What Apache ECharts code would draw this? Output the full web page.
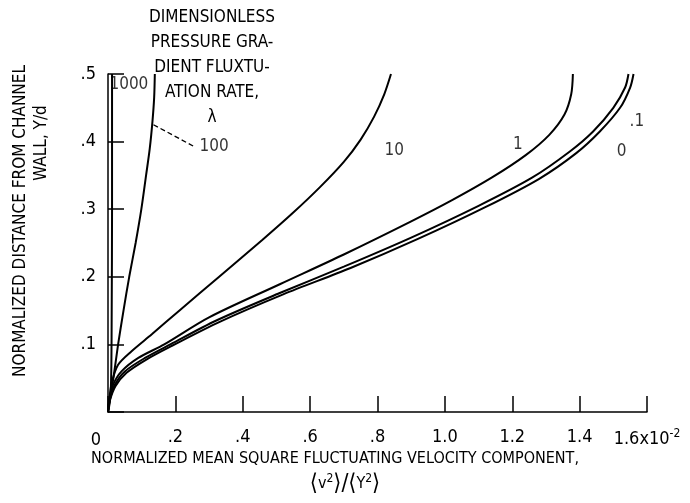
<!DOCTYPE html>
<html><head><meta charset="utf-8">
<script src="https://cdn.jsdelivr.net/npm/echarts@6/dist/echarts.min.js"></script>
<style>html,body{margin:0;padding:0;background:#fff}#c{width:690px;height:503px}</style>
</head><body><div id="c"></div>
<script>
// ---- data ----
const xTickLabels = ['', '.2', '.4', '.6', '.8', '1.0', '1.2', '1.4', '1.6x10{s|-2}'];
const yTickLabels = ['', '.1', '.2', '.3', '.4', '.5'];

const curve1000 = [[0,0],[0.004,0.01],[0.008,0.03],[0.010,0.07],[0.011,0.15],[0.012,0.3],[0.012,0.5]];
const curve100 = [[0,0],[0.006,0.02],[0.016,0.05],[0.03,0.1],[0.046,0.15],[0.063,0.2],[0.082,0.25],[0.099,0.3],[0.113,0.35],[0.124,0.39],[0.132,0.43],[0.137,0.465],[0.139,0.5]];
const curve10 = [[0,0],[0.004,0.02],[0.012,0.045],[0.03,0.07],[0.07,0.09],[0.13,0.115],[0.214,0.151],[0.33,0.2],[0.457,0.254],[0.55,0.295],[0.63,0.333],[0.7,0.37],[0.75,0.403],[0.79,0.437],[0.82,0.47],[0.84,0.5]];
const curve1 = [[0,0],[0.005,0.02],[0.015,0.04],[0.04,0.06],[0.09,0.08],[0.167,0.1],[0.3,0.14],[0.51,0.189],[0.7,0.233],[0.9,0.282],[1.02,0.313],[1.14,0.347],[1.24,0.38],[1.31,0.41],[1.355,0.44],[1.375,0.47],[1.38,0.5]];
const curve01 = [[0,0],[0.005,0.018],[0.02,0.04],[0.05,0.06],[0.11,0.08],[0.185,0.1],[0.32,0.135],[0.51,0.176],[0.7,0.215],[0.9,0.258],[1.1,0.305],[1.26,0.347],[1.37,0.385],[1.44,0.415],[1.5,0.45],[1.535,0.48],[1.545,0.5]];
const curve0 = [[0,0],[0.005,0.016],[0.022,0.038],[0.055,0.058],[0.115,0.078],[0.19,0.098],[0.33,0.133],[0.52,0.174],[0.72,0.213],[0.92,0.256],[1.12,0.303],[1.28,0.345],[1.39,0.383],[1.46,0.415],[1.52,0.45],[1.55,0.48],[1.56,0.5]];
const leader100 = [[0.135,0.425],[0.258,0.392]];
const curveLabels = [[0.062,0.484,'1000'],[0.315,0.392,'100'],[0.85,0.386,'10'],[1.217,0.395,'1'],[1.57,0.43,'.1'],[1.525,0.385,'0']];

const titleLines = ['DIMENSIONLESS','PRESSURE GRA-','DIENT FLUXTU-','ATION RATE,','λ'];

// ---- chart ----
const FONT = "'DejaVu Sans Condensed','Liberation Sans Narrow','Roboto Condensed','DejaVu Sans',sans-serif";
const chart = echarts.init(document.getElementById('c'), null, {renderer:'canvas'});
const lineSeries = (data) => ({type:'line', data, smooth:0.3, symbol:'none', lineStyle:{color:'#000', width:2}, z:3});

const graphics = [];
titleLines.forEach((t,i)=>{
  graphics.push({type:'text', x:212, y:18+i*25, style:{text:t, font:"17px "+FONT, fill:'#000', align:'center', verticalAlign:'middle'}});
});
graphics.push({type:'text', x:96, y:440, style:{text:'0', font:"18px "+FONT, fill:'#000', align:'center', verticalAlign:'middle'}});
graphics.push({type:'text', x:335, y:459, style:{text:'NORMALIZED MEAN SQUARE FLUCTUATING VELOCITY COMPONENT,', font:"16px "+FONT, fill:'#000', align:'center', verticalAlign:'middle'}});
graphics.push({type:'text', x:345, y:484, style:{text:'{b|⟨}{t|v}{s|2}{b|⟩}{b|/}{b|⟨}{t|Y}{s|2}{b|⟩}', align:'center', verticalAlign:'middle',
  rich:{b:{font:"23px "+FONT, fill:'#000'}, t:{font:"16px "+FONT, fill:'#000'}, s:{font:"12px "+FONT, fill:'#000', verticalAlign:'top', padding:[0,0,8,0]}}}});
graphics.push({type:'text', x:21, y:221, rotation:Math.PI/2, style:{text:'NORMALIZED DISTANCE FROM CHANNEL', font:"17px "+FONT, fill:'#000', align:'center', verticalAlign:'middle'}});
graphics.push({type:'text', x:42, y:143, rotation:Math.PI/2, style:{text:'WALL, Y/d', font:"17px "+FONT, fill:'#000', align:'center', verticalAlign:'middle'}});

chart.setOption({
  animation:false,
  backgroundColor:'#fff',
  grid:{left:108, right:43, top:74, bottom:91, containLabel:false},
  xAxis:{type:'value', min:0, max:1.6, interval:0.2,
    axisLine:{show:true, lineStyle:{color:'#000', width:1.5}},
    axisTick:{show:true, inside:true, length:16, lineStyle:{color:'#000', width:1.5}},
    splitLine:{show:false},
    axisLabel:{margin:16, color:'#000', fontFamily:FONT, fontSize:18,
      formatter:(v)=>xTickLabels[Math.round(v*5)],
      rich:{s:{fontFamily:FONT, fontSize:12, color:'#000', verticalAlign:'top', padding:[0,0,10,0]}}}},
  yAxis:{type:'value', min:0, max:0.5, interval:0.1,
    axisLine:{show:true, lineStyle:{color:'#000', width:1.5}},
    axisTick:{show:true, inside:true, length:16, lineStyle:{color:'#000', width:1.5}},
    splitLine:{show:false},
    axisLabel:{margin:12, color:'#000', fontFamily:FONT, fontSize:18,
      formatter:(v)=>yTickLabels[Math.round(v*10)]}},
  graphic:graphics,
  series:[
    lineSeries(curve1000), lineSeries(curve100), lineSeries(curve10),
    lineSeries(curve1), lineSeries(curve01), lineSeries(curve0),
    {type:'line', data:leader100, symbol:'none', lineStyle:{color:'#000', width:1.3, type:[5,3]}},
    {type:'scatter', data:curveLabels, symbolSize:0, z:5,
      label:{show:true, position:'inside', formatter:(p)=>p.data[2], color:'#000', fontFamily:FONT, fontSize:17}}
  ]
});
</script></body></html>
